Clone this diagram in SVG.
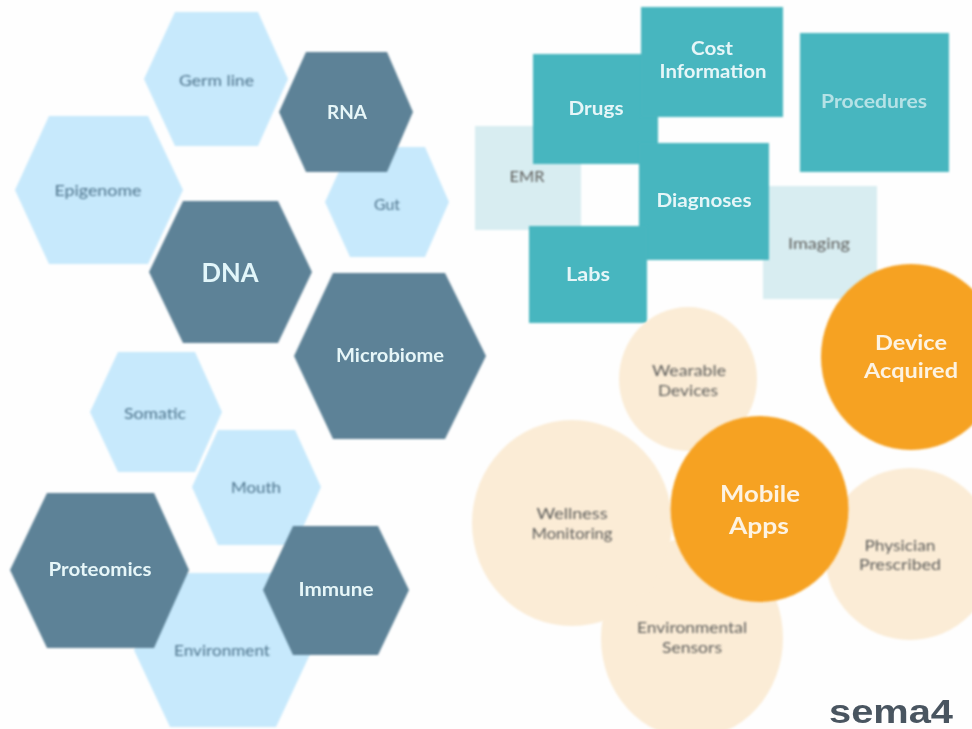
<svg xmlns="http://www.w3.org/2000/svg" width="972" height="729" viewBox="0 0 972 729">
<style>
text{font-family:"Lato","Open Sans","Liberation Sans",sans-serif;text-anchor:middle}
.hl{fill:#c7e9fc}.hd{fill:#5d8297}.rt{fill:#47b6bf}.rl{fill:#d8edf1}.cl{fill:#fbecd6}.co{fill:#f6a223}
.tb{fill:#4f758d;font-size:15px;filter:url(#b2)}
.tg{fill:#5e5e5c;font-size:15px;filter:url(#b2)}
.tw{fill:#e6f6f8;font-weight:700;font-size:18px;filter:url(#b1)}
.to{fill:#fdf3e2;font-weight:700;font-size:22px;filter:url(#b1)}
</style>
<defs>
<filter id="b0" x="-5%" y="-5%" width="110%" height="110%"><feGaussianBlur stdDeviation="0.8"/></filter>
<filter id="b1" x="-10%" y="-30%" width="120%" height="160%"><feGaussianBlur stdDeviation="0.7"/></filter>
<filter id="b2" x="-10%" y="-30%" width="120%" height="160%"><feGaussianBlur stdDeviation="1.1"/></filter>
</defs>
<rect width="972" height="729" fill="#fefefe"/>
<g id="node-germ-line"><polygon class="hl" filter="url(#b0)" points="144,79 175,12 258,12 288,79 258,146 175,146"/><text class="tb" x="216.5" y="86" textLength="75" lengthAdjust="spacingAndGlyphs">Germ line</text></g>
<g id="node-gut"><polygon class="hl" filter="url(#b0)" points="325,202 350,147 425,147 449,202 425,257 350,257"/><text class="tb" x="387" y="210" textLength="26" lengthAdjust="spacingAndGlyphs">Gut</text></g>
<g id="node-rna"><polygon class="hd" filter="url(#b0)" points="279,112 306,52 387,52 413,112 387,172 306,172"/><text class="tw" x="347" y="119" textLength="40" lengthAdjust="spacingAndGlyphs">RNA</text></g>
<g id="node-epigenome"><polygon class="hl" filter="url(#b0)" points="15,190 49,116 148,116 183,190 148,264 49,264"/><text class="tb" x="98" y="196" textLength="87" lengthAdjust="spacingAndGlyphs">Epigenome</text></g>
<g id="node-dna"><polygon class="hd" filter="url(#b0)" points="149,272 183,201 278,201 312,272 278,343 183,343"/><text class="tw" x="230" y="282" textLength="57" lengthAdjust="spacingAndGlyphs" style="font-size:26px;fill:#e2f6fa">DNA</text></g>
<g id="node-microbiome"><polygon class="hd" filter="url(#b0)" points="294,356 333,273 445,273 486,356 445,439 333,439"/><text class="tw" x="390" y="362" textLength="108" lengthAdjust="spacingAndGlyphs">Microbiome</text></g>
<g id="node-somatic"><polygon class="hl" filter="url(#b0)" points="90,412 118,352 195,352 222,412 195,472 118,472"/><text class="tb" x="155" y="419" textLength="62" lengthAdjust="spacingAndGlyphs">Somatic</text></g>
<g id="node-mouth"><polygon class="hl" filter="url(#b0)" points="192,487 218,430 295,430 321,487 295,545 218,545"/><text class="tb" x="256" y="493" textLength="50" lengthAdjust="spacingAndGlyphs">Mouth</text></g>
<g id="node-environment"><polygon class="hl" filter="url(#b0)" points="134,650 170,573 276,573 312,650 276,727 170,727"/><text class="tb" x="222" y="656" textLength="96" lengthAdjust="spacingAndGlyphs">Environment</text></g>
<g id="node-proteomics"><polygon class="hd" filter="url(#b0)" points="10,570 47,493 154,493 189,570 154,648 47,648"/><text class="tw" x="100" y="576" textLength="103" lengthAdjust="spacingAndGlyphs">Proteomics</text></g>
<g id="node-immune"><polygon class="hd" filter="url(#b0)" points="263,590 293,526 378,526 409,590 378,655 293,655"/><text class="tw" x="336" y="596" textLength="75" lengthAdjust="spacingAndGlyphs">Immune</text></g>

<g id="node-emr"><rect class="rl" filter="url(#b0)" x="475" y="126" width="106" height="104"/><text class="tg" x="527" y="182" textLength="35" lengthAdjust="spacingAndGlyphs">EMR</text></g>
<g id="node-imaging"><rect class="rl" filter="url(#b0)" x="763" y="186" width="114" height="113"/><text class="tg" x="819" y="249" textLength="62" lengthAdjust="spacingAndGlyphs">Imaging</text></g>
<g id="node-drugs"><rect class="rt" filter="url(#b0)" x="533" y="54" width="125" height="110"/><text class="tw" x="596" y="115" textLength="55" lengthAdjust="spacingAndGlyphs">Drugs</text></g>
<g id="node-cost"><rect class="rt" filter="url(#b0)" x="641" y="7" width="142" height="110"/><text class="tw" x="712" y="55" textLength="42" lengthAdjust="spacingAndGlyphs">Cost</text><text class="tw" x="713" y="78" textLength="107" lengthAdjust="spacingAndGlyphs">Information</text></g>
<g id="node-procedures"><rect class="rt" filter="url(#b0)" x="800" y="33" width="149" height="139"/><text class="tw" x="874" y="108" textLength="106" lengthAdjust="spacingAndGlyphs" style="fill:#b5e2e6">Procedures</text></g>
<g id="node-diagnoses"><rect class="rt" filter="url(#b0)" x="639" y="143" width="130" height="117"/><text class="tw" x="704" y="207" textLength="95" lengthAdjust="spacingAndGlyphs">Diagnoses</text></g>
<g id="node-labs"><rect class="rt" filter="url(#b0)" x="529" y="226" width="118" height="97"/><text class="tw" x="588" y="281" textLength="44" lengthAdjust="spacingAndGlyphs">Labs</text></g>

<g id="node-wearable"><ellipse class="cl" filter="url(#b0)" cx="688" cy="379" rx="69" ry="72"/><text class="tg" x="689" y="376" textLength="74" lengthAdjust="spacingAndGlyphs">Wearable</text><text class="tg" x="688" y="396" textLength="60" lengthAdjust="spacingAndGlyphs">Devices</text></g>
<g id="node-environmental"><ellipse class="cl" filter="url(#b0)" cx="692" cy="638" rx="91" ry="100"/><text class="tg" x="692" y="633" textLength="110" lengthAdjust="spacingAndGlyphs">Environmental</text><text class="tg" x="692" y="653" textLength="60" lengthAdjust="spacingAndGlyphs">Sensors</text></g>
<g id="node-wellness"><ellipse class="cl" filter="url(#b0)" cx="572" cy="523" rx="100" ry="103"/><text class="tg" x="572" y="519" textLength="71" lengthAdjust="spacingAndGlyphs">Wellness</text><text class="tg" x="572" y="539" textLength="81" lengthAdjust="spacingAndGlyphs">Monitoring</text></g>
<g id="node-physician"><ellipse class="cl" filter="url(#b0)" cx="910" cy="554" rx="85" ry="86"/><text class="tg" x="900" y="551" textLength="71" lengthAdjust="spacingAndGlyphs">Physician</text><text class="tg" x="900" y="570" textLength="82" lengthAdjust="spacingAndGlyphs">Prescribed</text></g>
<g id="node-mobile"><ellipse class="co" filter="url(#b0)" cx="759.5" cy="509" rx="89" ry="93"/><text class="to" x="760" y="502" textLength="80" lengthAdjust="spacingAndGlyphs">Mobile</text><text class="to" x="759" y="534" textLength="60" lengthAdjust="spacingAndGlyphs">Apps</text></g>
<g id="node-device"><ellipse class="co" filter="url(#b0)" cx="911" cy="357" rx="90" ry="93"/><text class="to" x="911" y="350" textLength="72" lengthAdjust="spacingAndGlyphs" style="font-size:20px">Device</text><text class="to" x="911" y="378" textLength="94" lengthAdjust="spacingAndGlyphs" style="font-size:20px">Acquired</text></g>

<text id="logo" x="891" y="723" textLength="124" lengthAdjust="spacingAndGlyphs" filter="url(#b1)" style="font-family:'Liberation Sans',sans-serif;font-weight:700;font-size:34px;fill:#4a5561">sema4</text>
</svg>
